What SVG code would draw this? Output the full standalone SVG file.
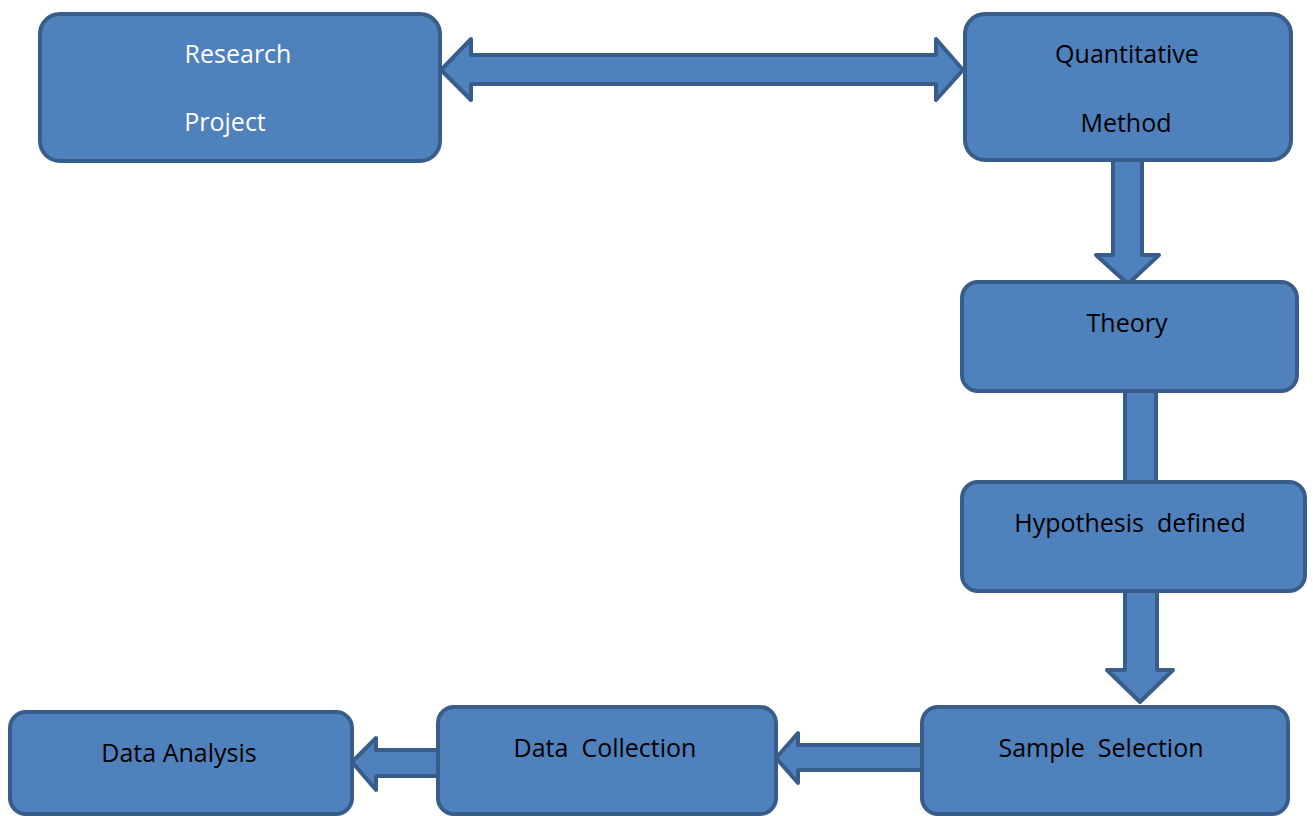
<svg xmlns="http://www.w3.org/2000/svg" width="1313" height="816" viewBox="0 0 1313 816">
<style>
.box{fill:#4f81bd;stroke:#385d8a;stroke-width:4}
.arr{fill:#4f81bd;stroke:#385d8a;stroke-width:4;stroke-linejoin:round}
.t{font-family:"Open Sans","Liberation Sans",sans-serif;font-size:25px;fill:#000;text-anchor:middle;white-space:pre}
.w{fill:#fff}
</style>
<rect width="1313" height="816" fill="#fff"/>
<g id="connectors">
<polygon class="arr" points="441,70 471,39 471,55 936,55 936,39 963,70 936,100 936,84 471,84 471,100"/>
<polygon class="arr" points="1113,158 1142,158 1142,255 1159,255 1128,284 1096,255 1113,255"/>
<rect class="arr" x="1125" y="389" width="31" height="95"/>
<polygon class="arr" points="1125,589 1157,589 1157,670 1173,670 1140,702 1107,670 1125,670"/>
<polygon class="arr" points="924,745 924,770 798,770 798,783 776,758 798,733 798,745"/>
<polygon class="arr" points="440,750 440,776 376,776 376,790 352,762 376,738 376,750"/>
</g>
<g id="research">
<rect class="box" x="40" y="14" width="400" height="147" rx="20"/>
<text class="t w" x="238" y="63">Research</text>
<text class="t w" x="225" y="131">Project</text>
</g>
<g id="quantitative">
<rect class="box" x="965" y="14" width="326" height="146" rx="20"/>
<text class="t" x="1127" y="63">Quantitative</text>
<text class="t" x="1126" y="132">Method</text>
</g>
<g id="theory">
<rect class="box" x="962" y="282" width="335" height="109" rx="16"/>
<text class="t" x="1127" y="332">Theory</text>
</g>
<g id="hypothesis">
<rect class="box" x="962" y="482" width="343" height="109" rx="16"/>
<text class="t" x="1130" y="532">Hypothesis  defined</text>
</g>
<g id="sample">
<rect class="box" x="922" y="707" width="366" height="107" rx="16"/>
<text class="t" x="1101" y="757">Sample  Selection</text>
</g>
<g id="collection">
<rect class="box" x="438" y="707" width="338" height="107" rx="16"/>
<text class="t" x="605" y="757">Data  Collection</text>
</g>
<g id="analysis">
<rect class="box" x="10" y="712" width="342" height="102" rx="16"/>
<text class="t" x="179" y="762">Data Analysis</text>
</g>
</svg>
